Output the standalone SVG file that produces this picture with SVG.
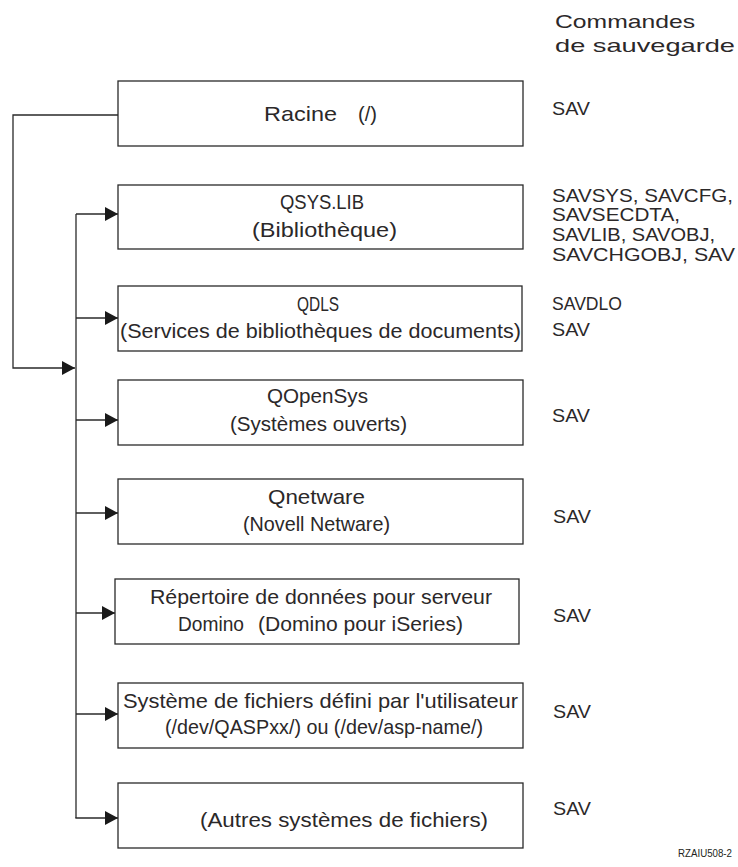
<svg xmlns="http://www.w3.org/2000/svg" width="738" height="867" viewBox="0 0 738 867">
  <style>
    .box { fill: #ffffff; stroke: #2a2a2a; stroke-width: 1.3; }
    .wire { fill: none; stroke: #2a2a2a; stroke-width: 1.3; }
    .t { font-family: "Liberation Sans", Arial, sans-serif; font-size: 21px; fill: #2b2829; }
    .cmd { font-family: "Liberation Sans", Arial, sans-serif; font-size: 19px; fill: #2b2829; }
    .ref { font-family: "Liberation Sans", Arial, sans-serif; font-size: 11px; fill: #231f20; }
  </style>
  <defs>
    <marker id="arrow" markerUnits="userSpaceOnUse" markerWidth="13" markerHeight="14" refX="13" refY="7" orient="auto">
      <path d="M0,0 L13,7 L0,14 Z" fill="#1a1a1a"/>
    </marker>
  </defs>

  <rect width="738" height="867" fill="#ffffff"/>

  <!-- connectors -->
  <g id="connectors">
    <path class="wire" d="M118,115 H13 V368 H75" marker-end="url(#arrow)"/>
    <path class="wire" d="M76,214 V818"/>
    <path class="wire" d="M76,214 H118" marker-end="url(#arrow)"/>
    <path class="wire" d="M76,318 H118" marker-end="url(#arrow)"/>
    <path class="wire" d="M76,420 H118" marker-end="url(#arrow)"/>
    <path class="wire" d="M76,513 H118" marker-end="url(#arrow)"/>
    <path class="wire" d="M76,613 H115" marker-end="url(#arrow)"/>
    <path class="wire" d="M76,714 H118" marker-end="url(#arrow)"/>
    <path class="wire" d="M75.35,818 H118" marker-end="url(#arrow)"/>
  </g>

  <!-- file system nodes -->
  <g id="racine">
    <rect class="box" x="118" y="81" width="405" height="65"/>
    <text class="t" x="264" y="121" textLength="73" lengthAdjust="spacingAndGlyphs">Racine</text>
    <text class="t" x="358" y="121" textLength="19" lengthAdjust="spacingAndGlyphs">(/)</text>
  </g>

  <g id="qsys">
    <rect class="box" x="118" y="185" width="405" height="64"/>
    <text class="t" x="280" y="209" textLength="84" lengthAdjust="spacingAndGlyphs">QSYS.LIB</text>
    <text class="t" x="252" y="237" textLength="145" lengthAdjust="spacingAndGlyphs">(Bibliothèque)</text>
  </g>

  <g id="qdls">
    <rect class="box" x="118" y="286" width="404" height="65"/>
    <text class="t" x="297" y="311" textLength="42" lengthAdjust="spacingAndGlyphs">QDLS</text>
    <text class="t" x="120" y="338" textLength="401" lengthAdjust="spacingAndGlyphs">(Services de bibliothèques de documents)</text>
  </g>

  <g id="qopensys">
    <rect class="box" x="118" y="380" width="405" height="65"/>
    <text class="t" x="267" y="403" textLength="101" lengthAdjust="spacingAndGlyphs">QOpenSys</text>
    <text class="t" x="230" y="431" textLength="177" lengthAdjust="spacingAndGlyphs">(Systèmes ouverts)</text>
  </g>

  <g id="qnetware">
    <rect class="box" x="118" y="479" width="405" height="65"/>
    <text class="t" x="268" y="504" textLength="97" lengthAdjust="spacingAndGlyphs">Qnetware</text>
    <text class="t" x="243" y="531" textLength="147" lengthAdjust="spacingAndGlyphs">(Novell Netware)</text>
  </g>

  <g id="domino">
    <rect class="box" x="115" y="579" width="404" height="65"/>
    <text class="t" x="150" y="604" textLength="342" lengthAdjust="spacingAndGlyphs">Répertoire de données pour serveur</text>
    <text class="t" x="178" y="631" textLength="66" lengthAdjust="spacingAndGlyphs">Domino</text>
    <text class="t" x="258" y="631" textLength="205" lengthAdjust="spacingAndGlyphs">(Domino pour iSeries)</text>
  </g>

  <g id="udfs">
    <rect class="box" x="118" y="683" width="405" height="65"/>
    <text class="t" x="123" y="708" textLength="395" lengthAdjust="spacingAndGlyphs">Système de fichiers défini par l'utilisateur</text>
    <text class="t" x="165" y="734" textLength="318" lengthAdjust="spacingAndGlyphs">(/dev/QASPxx/) ou (/dev/asp-name/)</text>
  </g>

  <g id="autres">
    <rect class="box" x="118" y="783" width="405" height="65"/>
    <text class="t" x="200" y="827" textLength="288" lengthAdjust="spacingAndGlyphs">(Autres systèmes de fichiers)</text>
  </g>

  <!-- save commands column -->
  <g id="commandes">
    <text class="cmd" x="555" y="28" textLength="140" lengthAdjust="spacingAndGlyphs">Commandes</text>
    <text class="cmd" x="555" y="52" textLength="180" lengthAdjust="spacingAndGlyphs">de sauvegarde</text>
    <text class="cmd" x="552" y="115" textLength="38" lengthAdjust="spacingAndGlyphs">SAV</text>
    <text class="cmd" x="552" y="202" textLength="181" lengthAdjust="spacingAndGlyphs">SAVSYS, SAVCFG,</text>
    <text class="cmd" x="552" y="221" textLength="128" lengthAdjust="spacingAndGlyphs">SAVSECDTA,</text>
    <text class="cmd" x="552" y="241" textLength="163" lengthAdjust="spacingAndGlyphs">SAVLIB, SAVOBJ,</text>
    <text class="cmd" x="552" y="261" textLength="183" lengthAdjust="spacingAndGlyphs">SAVCHGOBJ, SAV</text>
    <text class="cmd" x="552" y="310" textLength="70" lengthAdjust="spacingAndGlyphs">SAVDLO</text>
    <text class="cmd" x="552" y="336" textLength="38" lengthAdjust="spacingAndGlyphs">SAV</text>
    <text class="cmd" x="552" y="422" textLength="38" lengthAdjust="spacingAndGlyphs">SAV</text>
    <text class="cmd" x="553" y="523" textLength="38" lengthAdjust="spacingAndGlyphs">SAV</text>
    <text class="cmd" x="553" y="622" textLength="38" lengthAdjust="spacingAndGlyphs">SAV</text>
    <text class="cmd" x="553" y="718" textLength="38" lengthAdjust="spacingAndGlyphs">SAV</text>
    <text class="cmd" x="553" y="815" textLength="38" lengthAdjust="spacingAndGlyphs">SAV</text>
  </g>

  <text class="ref" x="678" y="857" textLength="54" lengthAdjust="spacingAndGlyphs">RZAIU508-2</text>
</svg>
